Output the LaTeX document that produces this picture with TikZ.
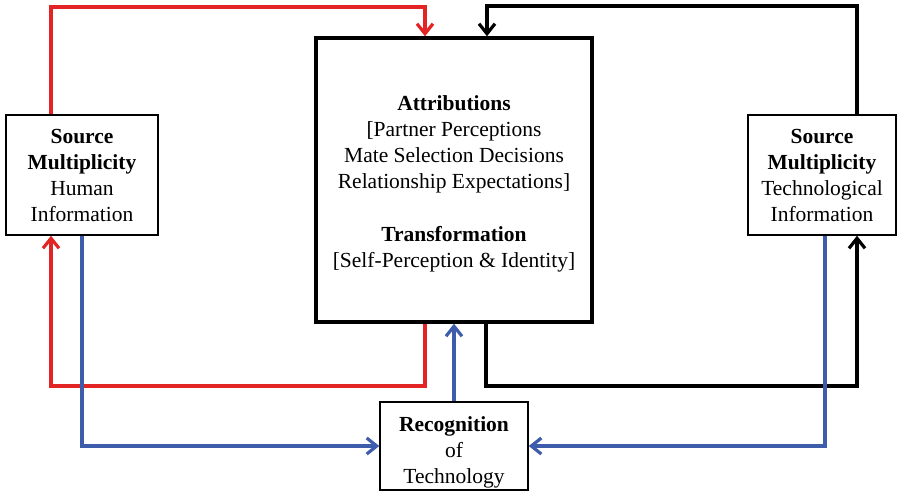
\documentclass[tikz,border=0pt]{standalone}
\usepackage{fontspec}
\setmainfont{Liberation Serif}
\usetikzlibrary{arrows.meta}
\definecolor{cred}{RGB}{226,36,36}
\definecolor{cblue}{RGB}{62,92,172}
\begin{document}
\begin{tikzpicture}[x=1pt,y=-1pt,
  box/.style={draw=black,line width=1.5pt,fill=white,align=center,inner sep=0pt,
    font=\fontsize{21.5}{26}\selectfont},
  bigbox/.style={box,line width=3.4pt},
  conn/.style={line width=3.2pt,line join=miter,-{Straight Barb[length=10pt,width=16pt,line width=3.2pt]}},
  redc/.style={conn,draw=cred},
  bluec/.style={conn,draw=cblue},
  blackc/.style={conn,draw=black}]
\useasboundingbox (0,0) rectangle (900,492);
\node[bigbox,minimum width=276pt,minimum height=284pt] (cen) at (454,180)
  {\mbox{}\\[-3pt]\textbf{Attributions}\\{[Partner Perceptions}\\Mate Selection Decisions\\{Relationship Expectations]}\\[27pt]\textbf{Transformation}\\{[Self-Perception \& Identity]}};
\node[box,minimum width=152pt,minimum height=120pt] (left) at (82,175)
  {\textbf{Source}\\\textbf{Multiplicity}\\Human\\Information};
\node[box,minimum width=148pt,minimum height=120pt] (right) at (822,175)
  {\textbf{Source}\\\textbf{Multiplicity}\\Technological\\Information};
\node[box,minimum width=148pt,minimum height=88pt] (rec) at (454,446)
  {\mbox{}\\[1pt]\textbf{Recognition}\\of\\Technology};
% level coordinates
\coordinate (ytopR) at (0,7);
\coordinate (ytopB) at (0,6);
\coordinate (ylow) at (0,386);
% attachment points
\coordinate (lN) at ([xshift=-31pt]left.north);
\coordinate (lS) at ([xshift=-31pt]left.south);
\coordinate (cNr) at ([xshift=-29pt]cen.north);
\coordinate (cNb) at ([xshift=33pt]cen.north);
\coordinate (cSr) at ([xshift=-29pt]cen.south);
\coordinate (cSb) at ([xshift=32pt]cen.south);
\coordinate (rN) at ([xshift=35pt]right.north);
\coordinate (rS) at ([xshift=35pt]right.south);
\coordinate (rSb) at ([xshift=3pt]right.south);
% red
\draw[redc] (lN) -- (lN |- ytopR) -| (cNr);
\draw[redc] (cSr) -- (cSr |- ylow) -| (lS);
% black
\draw[blackc] (rN) -- (rN |- ytopB) -| (cNb);
\draw[blackc] (cSb) -- (cSb |- ylow) -| (rS);
% blue
\draw[bluec] (left.south) |- (rec.west);
\draw[bluec] (rSb) |- (rec.east);
\draw[bluec] (rec.north) -- (cen.south);
\end{tikzpicture}
\end{document}
